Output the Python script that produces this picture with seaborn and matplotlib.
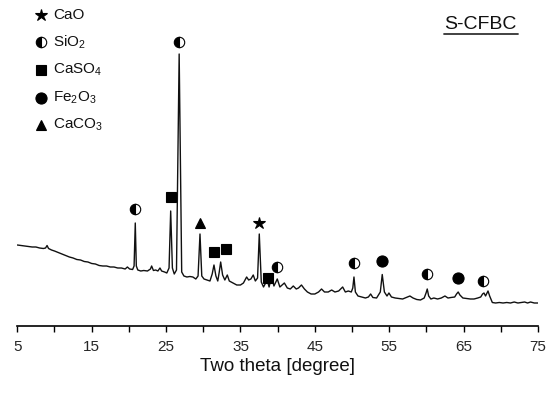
import matplotlib
matplotlib.use("Agg")
import matplotlib.pyplot as plt
import seaborn as sns
from matplotlib.lines import Line2D

# XRD pattern of S-CFBC ash (a.u.)
TWO_THETA = [
    5.0, 5.5, 6.0, 6.5, 7.0, 7.5, 8.0, 8.5, 8.8, 9.0, 9.2, 9.6, 10.0, 10.5,
    11.0, 11.5, 12.0, 12.5, 13.0, 13.5, 14.0, 14.5, 15.0, 15.5, 16.0, 16.5,
    17.0, 17.5, 18.0, 18.5, 19.0, 19.5, 19.8, 20.1, 20.5, 20.7, 20.86, 21.0,
    21.2, 21.6, 22.0, 22.5, 22.9, 23.06, 23.3, 23.6, 23.9, 24.18, 24.4, 24.8,
    25.1, 25.4, 25.62, 25.85, 26.1, 26.4, 26.76, 27.1, 27.4, 27.8, 28.2, 28.6,
    29.0, 29.3, 29.56, 29.8, 30.1, 30.5, 30.9, 31.2, 31.44, 31.7, 31.95, 32.15,
    32.34, 32.6, 32.9, 33.23, 33.5, 34.0, 34.5, 35.0, 35.4, 35.83, 36.1, 36.4,
    36.72, 37.0, 37.3, 37.53, 37.8, 38.1, 38.6, 38.85, 39.19, 39.5, 39.95,
    40.3, 40.6, 40.9, 41.3, 41.7, 42.1, 42.5, 42.8, 43.2, 43.6, 44.0, 44.5,
    45.0, 45.5, 45.9, 46.3, 46.8, 47.26, 47.7, 48.2, 48.74, 49.1, 49.5, 49.9,
    50.1, 50.26, 50.45, 50.8, 51.3, 51.8, 52.2, 52.5, 52.8, 53.3, 53.8, 54.06,
    54.35, 54.7, 54.96, 55.3, 55.8, 56.3, 56.8, 57.3, 57.78, 58.2, 58.7, 59.2,
    59.7, 59.95, 60.11, 60.3, 60.6, 61.0, 61.5, 62.0, 62.49, 62.9, 63.3, 63.8,
    64.05, 64.27, 64.5, 64.9, 65.4, 65.9, 66.4, 66.9, 67.3, 67.55, 67.74,
    67.95, 68.15, 68.28, 68.5, 68.86, 69.3, 69.8, 70.3, 70.8, 71.3, 71.8,
    72.3, 72.8, 73.2, 73.6, 74.0, 74.5, 75.0,
]
INTENSITY = [
    810, 805, 800, 795, 790, 790, 780, 775, 780, 805, 775, 760, 750, 735,
    720, 705, 690, 680, 665, 660, 645, 640, 625, 620, 605, 600,
    600, 590, 590, 580, 580, 570, 590, 570, 565, 600, 1030, 600,
    560, 550, 555, 550, 570, 600, 555, 560, 550, 580, 550, 540,
    530, 580, 1150, 580, 520, 560, 2720, 540, 500, 490, 495, 490,
    470, 500, 920, 500, 470, 460, 450, 520, 610, 500, 450, 540,
    640, 510, 460, 510, 450, 430, 410, 410, 430, 490, 460, 470,
    510, 450, 480, 920, 440, 390, 460, 390, 500, 400, 470,
    390, 410, 430, 380, 370, 400, 370, 380, 410, 370, 340, 320,
    320, 340, 370, 340, 340, 360, 340, 350, 390, 340, 350, 340,
    380, 490, 340, 300, 290, 280, 290, 320, 285, 280, 340, 515,
    340, 300, 330, 290, 280, 275, 270, 285, 300, 280, 265, 260,
    280, 330, 370, 300, 270, 280, 270, 280, 300, 280, 285, 290,
    320, 340, 310, 280, 275, 270, 270, 280, 290, 320, 330,
    300, 330, 350, 300, 235, 230, 235, 230, 235, 230, 240,
    230, 235, 240, 230, 240, 230, 230,
]

# phase markers above the peaks
CAO_POS = [37.53]
CAO_INT = [1033]
SIO2_POS = [20.86, 26.76, 39.87, 50.26, 60.11, 67.65]
SIO2_INT = [1170, 2843, 587, 633, 520, 450]
CASO4_POS = [25.62, 31.44, 33.01, 38.74]
CASO4_INT = [1290, 743, 767, 483]
FE2O3_POS = [54.06, 64.27]
FE2O3_INT = [653, 477]
CACO3_POS = [29.56]
CACO3_INT = [1035]

PHASE_LABELS = ["CaO", "SiO$_2$", "CaSO$_4$", "Fe$_2$O$_3$", "CaCO$_3$"]
X_TICKS = [5, 15, 25, 35, 45, 55, 65, 75]

sns.set_style("white")
plt.rcParams["font.family"] = ["Liberation Sans", "DejaVu Sans"]
plt.rcParams["mathtext.default"] = "regular"

fig = plt.figure(figsize=(5.6, 3.94), dpi=100)
ax = fig.add_axes([17.3 / 560, 68 / 394, 520.7 / 560, 326 / 394])

sns.lineplot(x=TWO_THETA, y=INTENSITY, ax=ax, color="#111111", linewidth=1.0,
             estimator=None)

styles = [
    dict(marker="*", markersize=9),
    dict(marker="o", markersize=7.5, fillstyle="left",
         markerfacecoloralt="white"),
    dict(marker="s", markersize=7),
    dict(marker="o", markersize=8),
    dict(marker="^", markersize=7),
]
positions = [(CAO_POS, CAO_INT), (SIO2_POS, SIO2_INT), (CASO4_POS, CASO4_INT),
             (FE2O3_POS, FE2O3_INT), (CACO3_POS, CACO3_INT)]

for (px, py), st in zip(positions, styles):
    ax.plot(px, py, linestyle="none", color="black", markerfacecolor="black",
            markeredgecolor="black", markeredgewidth=0.8, clip_on=False, **st)

# legend drawn by hand at top-left
legend_y = [15, 42.3, 70, 97.7, 125]
for lab, st, yp in zip(PHASE_LABELS, styles, legend_y):
    yf = (326 - yp) / 326
    ax.plot([(40.7 - 17.3) / 520.7], [yf], transform=ax.transAxes,
            linestyle="none", color="black", markerfacecolor="black",
            markeredgecolor="black", markeredgewidth=0.8, clip_on=False, **st)
    ax.text((53.3 - 17.3) / 520.7, yf, lab, transform=ax.transAxes,
            fontsize=11, va="center", ha="left", color="#111111")

# sample label, underlined
fig.text(480.8 / 560, 1 - 24.5 / 394, "S-CFBC", fontsize=14, ha="center",
         va="center", color="#111111")
fig.add_artist(Line2D([444 / 560, 517.5 / 560], [1 - 33.5 / 394, 1 - 33.5 / 394],
                      transform=fig.transFigure, color="#333333", linewidth=1.3))

ax.set_xlim(5, 75)
ax.set_ylim(0, 3260)
ax.set_xticks(X_TICKS)
ax.set_xticks([10, 20, 30, 40, 50, 60, 70], minor=True)
ax.set_yticks([])
ax.tick_params(axis="x", which="both", direction="out", length=4, width=1.0,
               color="black", labelsize=11, pad=6, bottom=True)
ax.set_xlabel("Two theta [degree]", fontsize=13.5, labelpad=3, color="#111111")
ax.set_ylabel("")
for side in ["top", "right", "left"]:
    ax.spines[side].set_visible(False)
ax.spines["bottom"].set_color("black")
ax.spines["bottom"].set_linewidth(1.2)

fig.savefig("out.png", dpi=100)
